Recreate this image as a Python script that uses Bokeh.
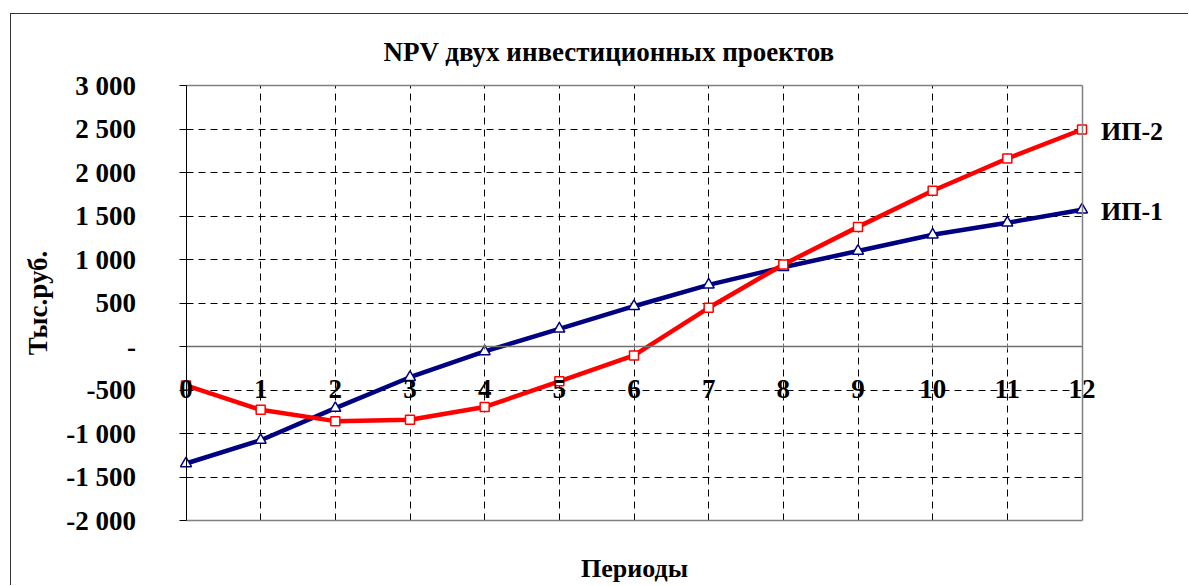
from bokeh.plotting import figure
from bokeh.models import FixedTicker, Label, LinearAxis, Grid
from bokeh.embed import file_html
from bokeh.resources import INLINE

# ---- data ----
periods = list(range(13))
ip1 = [-1345, -1077, -709, -353, -57, 203, 463, 709, 911, 1098, 1284, 1422, 1571]
ip2 = [-448, -728, -858, -843, -695, -400, -103, 445, 943, 1375, 1790, 2161, 2494]
series_names = ["ИП-1", "ИП-2"]
y_ticks = [-2000, -1500, -1000, -500, 0, 500, 1000, 1500, 2000, 2500, 3000]
y_tick_labels = ["-2 000", "-1 500", "-1 000", "-500", "-", "500", "1 000",
                 "1 500", "2 000", "2 500", "3 000"]
title_text = "NPV двух инвестиционных проектов"
x_title = "Периоды"
y_title = "Тыс.руб."

FONT = "Liberation Serif"
BLUE = "#000080"
RED = "#FF0000"
GRAY = "#808080"

# ---- layout (pixels) ----
W, H, TOP = 1178, 572, 57          # canvas size, title band height
PLOT_L, PLOT_R = 174.5, 1070.5     # plot area inside canvas (x)
PLOT_T, PLOT_B = 71.0 - TOP, 506.0 - TOP  # plot area inside frame (y)
FRAME_H = H - TOP

x0, x1 = periods[0], periods[-1]
y0, y1 = y_ticks[0], y_ticks[-1]
kx = (PLOT_R - PLOT_L) / (x1 - x0)
ky = (PLOT_B - PLOT_T) / (y1 - y0)
x_range = (x0 - PLOT_L / kx, x1 + (W - PLOT_R) / kx)
y_range = (y0 - (FRAME_H - PLOT_B) / ky, y1 + PLOT_T / ky)

p = figure(width=W, height=H, x_range=x_range, y_range=y_range,
           x_axis_location=None, y_axis_location=None,
           output_backend="svg", toolbar_location=None,
           min_border_left=0, min_border_right=0,
           min_border_top=TOP, min_border_bottom=0)
p.styles = {"margin-top": "13px", "margin-left": "10px",
            "border-top": "1px solid #333333", "border-left": "1px solid #333333"}
p.background_fill_color = "white"
p.border_fill_color = "white"
p.outline_line_color = None
p.xgrid.visible = False
p.ygrid.visible = False

# title
p.title.text = title_text
p.title.align = "left"
p.title.offset = 372
p.title.standoff = 9
p.title.text_font = FONT
p.title.text_font_style = "bold"
p.title.text_font_size = "27px"
p.title.text_color = "black"

def bold(axis, size="27px"):
    axis.major_label_text_font = FONT
    axis.major_label_text_font_style = "bold"
    axis.major_label_text_font_size = size
    axis.major_label_text_color = "black"
    axis.axis_label_text_font = FONT
    axis.axis_label_text_font_style = "bold"
    axis.axis_label_text_font_size = size
    axis.axis_label_text_color = "black"
    axis.minor_tick_out = 0
    axis.minor_tick_in = 0

# y axis at x = 0
ya = LinearAxis(fixed_location=x0, bounds=(y0, y1),
                ticker=FixedTicker(ticks=y_ticks),
                major_label_overrides=dict(zip(y_ticks, y_tick_labels)),
                axis_label=y_title)
bold(ya)
ya.major_label_standoff = 43
ya.major_tick_out = 7
ya.major_tick_in = 0
ya.axis_line_color = "black"
ya.major_tick_line_color = "black"
ya.axis_label_standoff = 11
p.add_layout(ya, "left")

# x axis crossing at zero
xa = LinearAxis(fixed_location=0, bounds=(x0, x1),
                ticker=FixedTicker(ticks=periods))
bold(xa)
xa.major_label_standoff = 30
xa.major_tick_out = 3
xa.major_tick_in = 3
xa.axis_line_color = "#707070"
xa.axis_line_width = 1.5
xa.major_tick_line_color = "#707070"
p.add_layout(xa, "below")

# bottom border with axis title
xb = LinearAxis(fixed_location=y0, bounds=(x0, x1), ticker=FixedTicker(ticks=[]),
                axis_label=x_title)
bold(xb, "26px")
xb.major_tick_out = 0
xb.major_tick_in = 0
xb.major_label_text_font_size = "0px"
xb.axis_line_color = GRAY
xb.axis_line_width = 1.5
xb.axis_label_standoff = 33
p.add_layout(xb, "below")

# top and right borders of the plot area
xt = LinearAxis(fixed_location=y1, bounds=(x0, x1), ticker=FixedTicker(ticks=[]),
                major_tick_out=0, major_tick_in=0, minor_tick_out=0, minor_tick_in=0,
                major_label_text_font_size="0px", axis_line_color=GRAY,
                axis_line_width=1.5)
p.add_layout(xt, "above")
yr = LinearAxis(fixed_location=x1, bounds=(y0, y1), ticker=FixedTicker(ticks=[]),
                major_tick_out=0, major_tick_in=0, minor_tick_out=0, minor_tick_in=0,
                major_label_text_font_size="0px", axis_line_color=GRAY,
                axis_line_width=1.5)
p.add_layout(yr, "right")

# dashed grids inside the plot area only
inner_y = [t for t in y_ticks if t not in (y0, y1, 0)]
gx = Grid(dimension=0, ticker=FixedTicker(ticks=periods[1:-1]),
          cross_bounds=(y0, y1), grid_line_color="black",
          grid_line_dash="7 5", grid_line_width=1)
gy = Grid(dimension=1, ticker=FixedTicker(ticks=inner_y),
          cross_bounds=(x0, x1), grid_line_color="black",
          grid_line_dash="7 5", grid_line_width=1)
p.add_layout(gx)
p.add_layout(gy)

# series
p.line(periods, ip1, line_color=BLUE, line_width=4.5)
p.scatter(periods, ip1, marker="triangle", size=11, fill_color="white",
          line_color=BLUE, line_width=1.5)
p.line(periods, ip2, line_color=RED, line_width=4.5)
p.scatter(periods, ip2, marker="square", size=9, fill_color="white",
          line_color=RED, line_width=1.5)

# series labels at line ends
for name, vals in zip(series_names, [ip1, ip2]):
    p.add_layout(Label(x=periods[-1], y=vals[-1], x_offset=19, y_offset=-2,
                       text=name, text_baseline="middle", text_align="left",
                       text_font=FONT, text_font_style="bold",
                       text_font_size="26px", text_color="black"))

open("out.html", "w").write(file_html(p, INLINE))
